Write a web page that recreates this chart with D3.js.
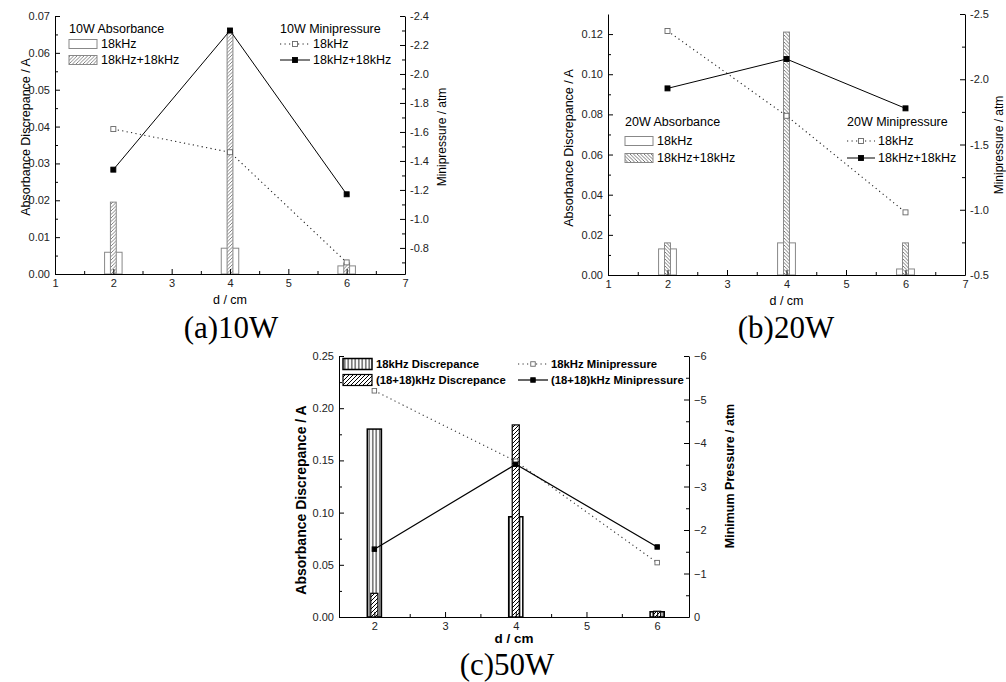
<!DOCTYPE html>
<html>
<head>
<meta charset="utf-8">
<script src="https://cdn.jsdelivr.net/npm/d3@7"></script>
<style>
  body { margin: 0; background: #fff; }
  svg { display: block; }
</style>
</head>
<body>
<svg id="chart" width="1006" height="682"></svg>
<script>
// Distances (cm)
const dist = [2, 4, 6];

// (a) 10W
const abs10_18 = [0.0059, 0.007, 0.0022];
const abs10_36 = [0.0195, 0.0655, 0.003];
const mp10_18 = [-1.62, -1.46, -0.70];
const mp10_36 = [-1.34, -2.30, -1.17];

// (b) 20W
const abs20_18 = [0.013, 0.016, 0.003];
const abs20_36 = [0.016, 0.121, 0.016];
const mp20_18 = [-2.37, -1.72, -0.98];
const mp20_36 = [-1.93, -2.155, -1.777];

// (c) 50W
const abs50_18 = [0.18, 0.096, 0.005];
const abs50_36 = [0.0227, 0.184, 0.0055];
const mp50_18 = [-5.2, -3.58, -1.25];
const mp50_36 = [-1.56, -3.51, -1.61];

// tick values
const xTicksAB = [1, 2, 3, 4, 5, 6, 7];
const xMinorAB = [1.5, 2.5, 3.5, 4.5, 5.5, 6.5];
const xTicksC = [2, 3, 4, 5, 6];
const xMinorC = [2.5, 3.5, 4.5, 5.5];
const yTicksA = [0, 0.01, 0.02, 0.03, 0.04, 0.05, 0.06, 0.07];
const yMinorA = [0.005, 0.015, 0.025, 0.035, 0.045, 0.055, 0.065];
const y2TicksA = [-2.4, -2.2, -2.0, -1.8, -1.6, -1.4, -1.2, -1.0, -0.8];
const y2MinorA = [-2.3, -2.1, -1.9, -1.7, -1.5, -1.3, -1.1, -0.9, -0.7];
const yTicksB = [0, 0.02, 0.04, 0.06, 0.08, 0.10, 0.12];
const yMinorB = [0.01, 0.03, 0.05, 0.07, 0.09, 0.11];
const y2TicksB = [-2.5, -2.0, -1.5, -1.0, -0.5];
const y2MinorB = [-2.25, -1.75, -1.25, -0.75];
const yTicksC = [0, 0.05, 0.10, 0.15, 0.20, 0.25];
const yMinorC = [0.025, 0.075, 0.125, 0.175, 0.225];
const y2TicksC = [-6, -5, -4, -3, -2, -1, 0];
const y2MinorC = [-5.5, -4.5, -3.5, -2.5, -1.5, -0.5];

const SANS = "'Liberation Sans', Arial, sans-serif";
const SERIF = "'Liberation Serif', 'Times New Roman', serif";

const svg = d3.select("#chart");
svg.append("rect").attr("width", 1006).attr("height", 682).attr("fill", "#fff");

// hatch patterns
const defs = svg.append("defs");
function hatch(id, size, d, color, sw) {
  const p = defs.append("pattern")
    .attr("id", id)
    .attr("patternUnits", "userSpaceOnUse")
    .attr("width", size).attr("height", size);
  p.append("rect").attr("width", size).attr("height", size).attr("fill", "#fff");
  p.append("path").attr("d", d).attr("stroke", color).attr("stroke-width", sw).attr("fill", "none");
}
hatch("fwdGray", 3.5, "M-1,1 l2,-2 M0,3.5 l3.5,-3.5 M2.5,4.5 l2,-2", "#666", 0.8);
hatch("backGray", 3.5, "M-1,2.5 l2,2 M0,0 l3.5,3.5 M2.5,-1 l2,2", "#555", 0.8);
hatch("fwdBlack", 4, "M-1,1 l2,-2 M0,4 l4,-4 M3,5 l2,-2", "#000", 1);
hatch("vertBlack", 3.5, "M1.75,0 v3.5", "#000", 0.9);

function panel(p) {
  const g = svg.append("g");
  const x = d3.scaleLinear().domain(p.xDomain).range([p.left, p.right]);
  const y = d3.scaleLinear().domain(p.yDomain).range([p.bottom, p.top]);
  const y2 = d3.scaleLinear().domain(p.y2Domain).range([p.bottom, p.top]);

  // bars: wide first, narrow on top
  p.bars.forEach(b => {
    g.selectAll(null)
      .data(dist.map((d, i) => ({ d, v: b.values[i] })))
      .enter().append("rect")
      .attr("x", o => x(o.d - b.width / 2))
      .attr("width", o => x(o.d + b.width / 2) - x(o.d - b.width / 2))
      .attr("y", o => y(o.v))
      .attr("height", o => y(0) - y(o.v))
      .attr("fill", b.fill)
      .attr("stroke", b.stroke)
      .attr("stroke-width", b.sw);
  });

  // pressure lines
  p.lines.forEach(l => {
    const pts = dist.map((d, i) => [x(d), y2(l.values[i])]);
    g.append("path")
      .attr("d", d3.line()(pts))
      .attr("fill", "none")
      .attr("stroke", l.color)
      .attr("stroke-width", l.sw)
      .attr("stroke-dasharray", l.dash);
    g.selectAll(null).data(pts).enter().append("rect")
      .attr("x", q => q[0] - p.ms / 2).attr("y", q => q[1] - p.ms / 2)
      .attr("width", p.ms).attr("height", p.ms)
      .attr("fill", l.filled ? "#000" : "#fff")
      .attr("stroke", l.filled ? "#000" : "#666")
      .attr("stroke-width", 0.9);
  });

  // axes
  const styleAxis = sel => {
    sel.select(".domain").attr("stroke", "#000").attr("stroke-width", 1);
    sel.selectAll(".tick line").attr("stroke", "#000");
    sel.selectAll("text").attr("font-family", SANS).attr("font-size", 11).attr("fill", "#222");
  };
  const addAxis = (axisFn, scale, major, minor, fmt, transform) => {
    g.append("g").attr("transform", transform)
      .call(axisFn(scale).tickValues(minor).tickSizeInner(-3).tickSizeOuter(0).tickFormat(""))
      .call(s => s.select(".domain").remove())
      .call(s => s.selectAll(".tick line").attr("stroke", "#000"));
    g.append("g").attr("transform", transform)
      .call(axisFn(scale).tickValues(major).tickSizeInner(-5).tickSizeOuter(0).tickPadding(5).tickFormat(fmt))
      .call(styleAxis);
  };
  addAxis(d3.axisBottom, x, p.xTicks, p.xMinor, d3.format("d"), `translate(0,${p.bottom})`);
  addAxis(d3.axisLeft, y, p.yTicks, p.yMinor, v => v.toFixed(2), `translate(${p.left},0)`);
  addAxis(d3.axisRight, y2, p.y2Ticks, p.y2Minor, p.y2Fmt, `translate(${p.right},0)`);

  // axis titles
  const wt = p.bold ? "bold" : "normal";
  g.append("text")
    .attr("x", (p.left + p.right) / 2).attr("y", p.xTitleY)
    .attr("text-anchor", "middle")
    .attr("font-family", SANS).attr("font-size", p.xTitleSize).attr("font-weight", wt)
    .text("d / cm");
  g.append("text")
    .attr("transform", `translate(${p.yTitleX},${p.yTitleCY}) rotate(-90)`)
    .attr("text-anchor", "middle").attr("dy", "0.35em")
    .attr("font-family", SANS).attr("font-size", p.yTitleSize).attr("font-weight", wt)
    .text("Absorbance Discrepance / A");
  g.append("text")
    .attr("transform", `translate(${p.y2TitleX},${p.y2TitleCY}) rotate(-90)`)
    .attr("text-anchor", "middle").attr("dy", "0.35em")
    .attr("font-family", SANS).attr("font-size", p.y2TitleSize).attr("font-weight", wt)
    .text(p.y2Title);

  // caption
  g.append("text")
    .attr("x", p.capX).attr("y", p.capY)
    .attr("text-anchor", "middle")
    .attr("font-family", SERIF).attr("font-size", 31)
    .text(p.caption);

  // legends
  const lg = p.legend;
  const fs = lg.fs;
  if (lg.barTitle) {
    g.append("text").attr("x", lg.bx).attr("y", lg.titleY).attr("dy", "0.35em")
      .attr("font-family", SANS).attr("font-size", fs).attr("font-weight", wt).text(lg.barTitle);
  }
  p.bars.forEach((b, i) => {
    const cy = lg.rows[i];
    g.append("rect").attr("x", lg.bx).attr("y", cy - lg.bh / 2)
      .attr("width", lg.bw).attr("height", lg.bh)
      .attr("fill", b.fill).attr("stroke", b.stroke).attr("stroke-width", b.sw);
    g.append("text").attr("x", lg.bx + lg.bw + 4).attr("y", cy).attr("dy", "0.35em")
      .attr("font-family", SANS).attr("font-size", fs).attr("font-weight", wt).text(b.label);
  });
  if (lg.lineTitle) {
    g.append("text").attr("x", lg.lx).attr("y", lg.titleY).attr("dy", "0.35em")
      .attr("font-family", SANS).attr("font-size", fs).attr("font-weight", wt).text(lg.lineTitle);
  }
  p.lines.forEach((l, i) => {
    const cy = lg.rows[i];
    g.append("line").attr("x1", lg.lx).attr("x2", lg.lx + lg.lw).attr("y1", cy).attr("y2", cy)
      .attr("stroke", l.color).attr("stroke-width", l.sw).attr("stroke-dasharray", l.dash);
    g.append("rect").attr("x", lg.lx + lg.lw / 2 - p.ms / 2).attr("y", cy - p.ms / 2)
      .attr("width", p.ms).attr("height", p.ms)
      .attr("fill", l.filled ? "#000" : "#fff")
      .attr("stroke", l.filled ? "#000" : "#666").attr("stroke-width", 0.9);
    g.append("text").attr("x", lg.lx + lg.lw + 3).attr("y", cy).attr("dy", "0.35em")
      .attr("font-family", SANS).attr("font-size", fs).attr("font-weight", wt).text(l.label);
  });
}

// (a) 10W
panel({
  left: 55, right: 405, top: 16, bottom: 274,
  xDomain: [1, 7], yDomain: [0, 0.07], y2Domain: [-0.62, -2.4],
  xTicks: xTicksAB, xMinor: xMinorAB, yTicks: yTicksA, yMinor: yMinorA,
  y2Ticks: y2TicksA, y2Minor: y2MinorA, y2Fmt: v => v.toFixed(1),
  bars: [
    { values: abs10_18, width: 0.3, fill: "#fff", stroke: "#888", sw: 1, label: "18kHz" },
    { values: abs10_36, width: 0.1, fill: "url(#fwdGray)", stroke: "#888", sw: 1, label: "18kHz+18kHz" }
  ],
  lines: [
    { values: mp10_18, color: "#222", sw: 1.1, dash: "1.2,3.3", filled: false, label: "18kHz" },
    { values: mp10_36, color: "#000", sw: 1, dash: null, filled: true, label: "18kHz+18kHz" }
  ],
  ms: 5, bold: false,
  xTitleY: 304, xTitleSize: 12.5,
  yTitleX: 26, yTitleCY: 137, yTitleSize: 12.5,
  y2TitleX: 442, y2TitleCY: 137, y2TitleSize: 12, y2Title: "Minipressure / atm",
  caption: "(a)10W", capX: 231, capY: 338,
  legend: { fs: 12.5, barTitle: "10W Absorbance", lineTitle: "10W Minipressure",
    bx: 69, bw: 28, bh: 9, lx: 280, lw: 30, titleY: 29, rows: [44, 60] }
});

// (b) 20W
panel({
  left: 608, right: 965, top: 14, bottom: 275,
  xDomain: [1, 7], yDomain: [0, 0.13], y2Domain: [-0.5, -2.5],
  xTicks: xTicksAB, xMinor: xMinorAB, yTicks: yTicksB, yMinor: yMinorB,
  y2Ticks: y2TicksB, y2Minor: y2MinorB, y2Fmt: v => v.toFixed(1),
  bars: [
    { values: abs20_18, width: 0.3, fill: "#fff", stroke: "#888", sw: 1, label: "18kHz" },
    { values: abs20_36, width: 0.1, fill: "url(#backGray)", stroke: "#888", sw: 1, label: "18kHz+18kHz" }
  ],
  lines: [
    { values: mp20_18, color: "#222", sw: 1.1, dash: "1.2,3.3", filled: false, label: "18kHz" },
    { values: mp20_36, color: "#000", sw: 1, dash: null, filled: true, label: "18kHz+18kHz" }
  ],
  ms: 5, bold: false,
  xTitleY: 305, xTitleSize: 12.5,
  yTitleX: 569, yTitleCY: 148, yTitleSize: 12.5,
  y2TitleX: 999, y2TitleCY: 145, y2TitleSize: 12, y2Title: "Minipressure / atm",
  caption: "(b)20W", capX: 786, capY: 338,
  legend: { fs: 12.5, barTitle: "20W Absorbance", lineTitle: "20W Minipressure",
    bx: 625, bw: 28, bh: 9, lx: 847, lw: 28, titleY: 122, rows: [141, 158] }
});

// (c) 50W
panel({
  left: 339, right: 689, top: 356, bottom: 617,
  xDomain: [1.5, 6.45], yDomain: [0, 0.25], y2Domain: [0, -6],
  xTicks: xTicksC, xMinor: xMinorC, yTicks: yTicksC, yMinor: yMinorC,
  y2Ticks: y2TicksC, y2Minor: y2MinorC, y2Fmt: d3.format("d"),
  bars: [
    { values: abs50_18, width: 0.2, fill: "url(#vertBlack)", stroke: "#000", sw: 1.5, label: "18kHz Discrepance" },
    { values: abs50_36, width: 0.1, fill: "url(#fwdBlack)", stroke: "#000", sw: 1.2, label: "(18+18)kHz Discrepance" }
  ],
  lines: [
    { values: mp50_18, color: "#333", sw: 1.1, dash: "1.2,3.3", filled: false, label: "18kHz Minipressure" },
    { values: mp50_36, color: "#000", sw: 1.2, dash: null, filled: true, label: "(18+18)kHz Minipressure" }
  ],
  ms: 4.5, bold: true,
  xTitleY: 643, xTitleSize: 13.5,
  yTitleX: 301, yTitleCY: 500, yTitleSize: 14,
  y2TitleX: 730, y2TitleCY: 476, y2TitleSize: 12.5, y2Title: "Minimum Pressure / atm",
  caption: "(c)50W", capX: 507, capY: 675,
  legend: { fs: 11.3, barTitle: null, lineTitle: null,
    bx: 343, bw: 29, bh: 11, lx: 518, lw: 30, titleY: 0, rows: [364, 380] }
});
</script>
</body>
</html>
